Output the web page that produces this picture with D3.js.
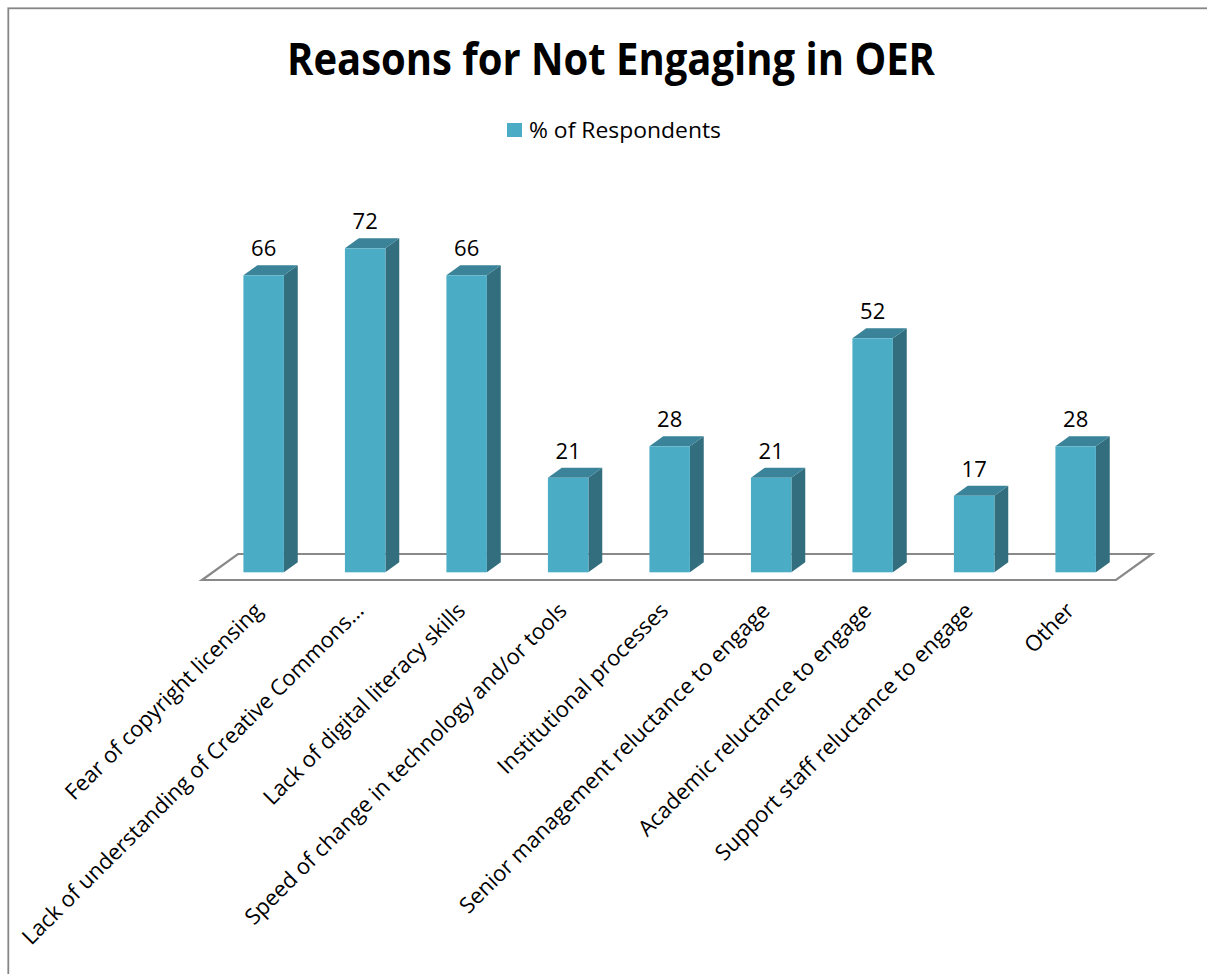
<!DOCTYPE html>
<html>
<head>
<meta charset="utf-8">
<script src="https://cdn.jsdelivr.net/npm/d3@7"></script>
<style>
  html, body { margin: 0; padding: 0; background: #ffffff; }
  svg { display: block; }
</style>
</head>
<body>
<svg id="chart" width="1207" height="974"></svg>
<script>
// Survey: reasons respondents give for not engaging with OER
const categories = [
  "Fear of copyright licensing",
  "Lack of understanding of Creative Commons\u2026",
  "Lack of digital literacy skills",
  "Speed of change in technology and/or tools",
  "Institutional processes",
  "Senior management reluctance to engage",
  "Academic reluctance to engage",
  "Support staff reluctance to engage",
  "Other"
];
const respondents = [66, 72, 66, 21, 28, 21, 52, 17, 28];
const seriesName = "% of Respondents";
const titleText = "Reasons for Not Engaging in OER";
const valueDomain = [0, 80];

const svg = d3.select("#chart");
const W = 1207, H = 974;

// Colours of the 3D column faces
const frontColor = "#4BACC6";
const topColor = "#3A8398";
const sideColor = "#326E7E";
const floorStroke = "#898989";

// Outer chart border (only top and left edges fall inside the page)
svg.append("rect")
  .attr("x", 8.3).attr("y", 8.3)
  .attr("width", W + 20).attr("height", H + 20)
  .attr("fill", "#ffffff")
  .attr("stroke", "#868686")
  .attr("stroke-width", 1.8);

// Plot geometry: floor front edge and the oblique depth direction
const floorLeft = 202, floorRight = 1116, floorFrontY = 580;
const depthDX = 36, depthDY = 26;            // full floor depth
const k = depthDX / depthDY;
const barFrontDepth = 7.7, barBackDepth = 17.7;

const x = d3.scaleBand()
  .domain(categories)
  .range([floorLeft, floorRight])
  .paddingInner(0.601)
  .paddingOuter(0.303);

const baseY = floorFrontY - barFrontDepth;    // bottom of column front faces
const y = d3.scaleLinear()
  .domain(valueDomain)
  .range([baseY, baseY - 360]);

// Floor parallelogram
const floorPts = [
  [floorLeft, floorFrontY],
  [floorRight, floorFrontY],
  [floorRight + depthDX, floorFrontY - depthDY],
  [floorLeft + depthDX, floorFrontY - depthDY]
];
svg.append("path")
  .attr("d", d3.line()(floorPts) + "Z")
  .attr("fill", "#ffffff")
  .attr("stroke", floorStroke)
  .attr("stroke-width", 2.2)
  .attr("stroke-linejoin", "miter");

const fdx = barFrontDepth * k;
const bdx = (barBackDepth - barFrontDepth) * k;
const bdy = barBackDepth - barFrontDepth;
const bw = x.bandwidth();

const bars = svg.append("g").selectAll("g")
  .data(categories.map((c, i) => ({ c, v: respondents[i] })))
  .join("g");

// Right side face
bars.append("path")
  .attr("fill", sideColor)
  .attr("d", d => {
    const x1 = x(d.c) + fdx + bw, yt = y(d.v);
    return d3.line()([[x1, yt], [x1 + bdx, yt - bdy], [x1 + bdx, baseY - bdy], [x1, baseY]]) + "Z";
  });

// Top face
bars.append("path")
  .attr("fill", topColor)
  .attr("d", d => {
    const x0 = x(d.c) + fdx, yt = y(d.v);
    return d3.line()([[x0, yt], [x0 + bw, yt], [x0 + bw + bdx, yt - bdy], [x0 + bdx, yt - bdy]]) + "Z";
  });

// Front face
bars.append("rect")
  .attr("fill", frontColor)
  .attr("x", d => x(d.c) + fdx)
  .attr("y", d => y(d.v))
  .attr("width", bw)
  .attr("height", d => baseY - y(d.v));

// Value labels
bars.append("text")
  .attr("x", d => x(d.c) + fdx + bw / 2)
  .attr("y", d => y(d.v) - 19)
  .attr("text-anchor", "middle")
  .attr("font-family", "'Open Sans', sans-serif")
  .attr("font-size", 22)
  .attr("fill", "#000")
  .text(d => d.v);

// Category labels, rotated 45 degrees
svg.append("g").selectAll("text")
  .data(categories)
  .join("text")
  .attr("transform", c => `translate(${x(c) + fdx + bw / 2},612) rotate(-45)`)
  .attr("text-anchor", "end")
  .attr("font-family", "'Open Sans', sans-serif")
  .attr("font-size", 22)
  .attr("fill", "#000")
  .text(c => c);

// Title
svg.append("text")
  .attr("x", 611).attr("y", 75)
  .attr("text-anchor", "middle")
  .attr("font-family", "'Open Sans', sans-serif")
  .attr("font-weight", "bold")
  .attr("font-size", 45)
  .attr("textLength", 648)
  .attr("lengthAdjust", "spacingAndGlyphs")
  .attr("fill", "#000")
  .text(titleText);

// Legend
const legend = svg.append("g");
legend.append("rect")
  .attr("x", 507).attr("y", 123)
  .attr("width", 15).attr("height", 14)
  .attr("fill", frontColor);
legend.append("text")
  .attr("x", 529).attr("y", 138)
  .attr("font-family", "'Open Sans', sans-serif")
  .attr("font-size", 21)
  .attr("textLength", 192)
  .attr("lengthAdjust", "spacingAndGlyphs")
  .attr("fill", "#000")
  .text(seriesName);
</script>
</body>
</html>
